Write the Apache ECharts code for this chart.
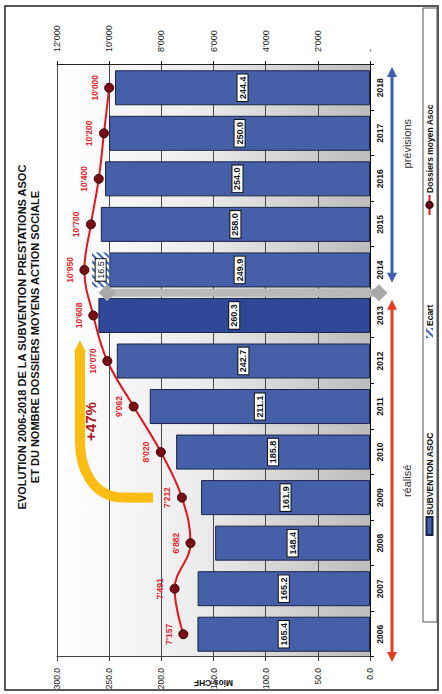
<!DOCTYPE html>
<html>
<head>
<meta charset="utf-8">
<script src="https://cdn.jsdelivr.net/npm/echarts@6/dist/echarts.min.js"></script>
<style>
  html, body { margin: 0; padding: 0; background: #fff; overflow: hidden; }
  #page { position: absolute; left: 0; top: 0; width: 442px; height: 694px; overflow: hidden; background: #fff; }
  /* landscape chart turned a quarter turn to fit the portrait page */
  #chart { position: absolute; left: 0; top: 0; width: 694px; height: 442px;
           transform-origin: 0 0; transform: translateY(694px) rotate(-90deg); }
</style>
</head>
<body>
<div id="page"><div id="chart"></div></div>
<script>
// ---- data ----
const years = ['2006', '2007', '2008', '2009', '2010', '2011', '2012', '2013', '2014', '2015', '2016', '2017', '2018'];
const subvention = [165.4, 165.2, 148.4, 161.9, 185.8, 211.1, 242.7, 260.3, 249.9, 258.0, 254.0, 250.0, 244.4];
const ecart = [null, null, null, null, null, null, null, null, 16.5, null, null, null, null];
const dossiers = [7157, 7491, 6882, 7212, 8020, 9062, 10070, 10608, 10950, 10700, 10400, 10200, 10000];
const lastActualYear = '2013';
const growthText = '+47%';

// ---- styling ----
const FONT = '"Liberation Sans", Arial, Helvetica, sans-serif';
const BAR_BLUE = '#4560a8';
const BAR_DARK = '#2f4897';
const LINE_RED = '#e4161d';
const GOLD = '#fbbd12';

function withQuote(v) {
  return String(v).replace(/\B(?=(\d{3})+(?!\d))/g, "'");
}

const labelBox = {
  show: true,
  position: 'inside',
  color: '#111',
  fontFamily: FONT,
  fontSize: 9,
  fontWeight: 'bold',
  backgroundColor: '#fff',
  borderColor: '#111',
  borderWidth: 1,
  padding: [1, 2, 0, 2],
  formatter: p => Number(p.value).toFixed(1)
};

const chart = echarts.init(document.getElementById('chart'), null, { renderer: 'svg', width: 694, height: 442 });

const option = {
  animation: false,
  backgroundColor: '#fff',
  textStyle: { fontFamily: FONT },
  grid: {
    left: 37, right: 65, top: 57, bottom: 72,
    show: true, borderWidth: 0,
    outerBoundsMode: 'none', containLabel: false,
    backgroundColor: {
      type: 'linear', x: 0, y: 0, x2: 0, y2: 1,
      colorStops: [
        { offset: 0, color: '#ffffff' },
        { offset: 0.45, color: '#ececec' },
        { offset: 1, color: '#bcbcbc' }
      ]
    }
  },
  legend: [
    { data: ['SUBVENTION ASOC'], left: 158, top: 425, padding: 0, icon: 'rect',
      itemWidth: 18, itemHeight: 6, selectedMode: false,
      textStyle: { fontFamily: FONT, fontSize: 8.5, fontWeight: 'bold', color: '#111', padding: [0, 0, 0, -3] } },
    { data: ['Ecart'], left: 356, top: 425, padding: 0, icon: 'rect',
      itemWidth: 10, itemHeight: 7, selectedMode: false,
      textStyle: { fontFamily: FONT, fontSize: 8.5, fontWeight: 'bold', color: '#111', padding: [0, 0, 0, -3] } },
    { data: ['Dossiers moyen Asoc'], left: 478, top: 425, padding: 0,
      itemWidth: 20, itemHeight: 8, selectedMode: false,
      textStyle: { fontFamily: FONT, fontSize: 8.5, fontWeight: 'bold', color: '#111', padding: [0, 0, 0, -3] } }
  ],
  xAxis: {
    type: 'category',
    data: years,
    boundaryGap: true,
    axisLine: { lineStyle: { color: '#111', width: 1 } },
    axisTick: { show: true, length: 4, lineStyle: { color: '#111' } },
    axisLabel: { margin: 5, fontFamily: FONT, fontSize: 8.5, fontWeight: 'bold', color: '#111' }
  },
  yAxis: [
    {
      type: 'value', min: 0, max: 300, interval: 50, position: 'left',
      name: 'Mios CHF', nameLocation: 'middle', nameGap: 21, nameMoveOverlap: false,
      nameTextStyle: { fontFamily: FONT, fontSize: 8.5, fontWeight: 'bold', color: '#111' },
      axisLine: { show: true, lineStyle: { color: '#444', width: 1 } },
      axisTick: { show: true, length: 4, lineStyle: { color: '#444' } },
      axisLabel: { margin: 11, fontFamily: FONT, fontSize: 8.5, color: '#222', formatter: v => v.toFixed(1) },
      splitLine: { show: true, lineStyle: { color: '#4a4a4a', width: 1 } }
    },
    {
      type: 'value', min: 0, max: 12000, interval: 2000, position: 'right',
      axisLine: { show: true, lineStyle: { color: '#222', width: 1 } },
      axisTick: { show: true, length: 4, lineStyle: { color: '#222' } },
      axisLabel: { margin: 13, fontFamily: FONT, fontSize: 9, color: '#222',
                   formatter: v => (v === 0 ? '-' : withQuote(v)) },
      splitLine: { show: false }
    }
  ],
  series: [
    {
      name: 'SUBVENTION ASOC',
      type: 'bar',
      stack: 'total',
      barWidth: 35,
      z: 2,
      data: subvention.map((v, i) => years[i] === lastActualYear
        ? { value: v, itemStyle: { color: BAR_DARK } }
        : v),
      itemStyle: { color: BAR_BLUE, borderColor: '#1b2447', borderWidth: 1 },
      label: labelBox
    },
    {
      name: 'Ecart',
      type: 'bar',
      stack: 'total',
      barWidth: 35,
      z: 2,
      data: ecart,
      itemStyle: {
        color: '#ffffff',
        decal: {
          symbol: 'rect', symbolSize: 1,
          dashArrayX: [1, 0], dashArrayY: [2, 3],
          rotation: -Math.PI / 4,
          color: '#3d65b8'
        }
      },
      label: Object.assign({}, labelBox, { fontWeight: 'normal' })
    },
    {
      name: 'Dossiers moyen Asoc',
      type: 'line',
      yAxisIndex: 1,
      z: 6,
      data: dossiers,
      smooth: 0.4,
      symbol: 'circle',
      symbolSize: 9,
      lineStyle: { color: LINE_RED, width: 2 },
      itemStyle: { color: '#7a0c13', borderColor: '#3b0508', borderWidth: 1 },
      label: {
        show: true, position: 'top', distance: 5,
        color: '#e8232a', fontFamily: FONT, fontSize: 8.5, fontWeight: 'bold',
        formatter: p => withQuote(p.value)
      }
    }
  ]
};

chart.setOption(option);

// ---- annotations placed from the axes ----
const xAt = name => chart.convertToPixel({ xAxisIndex: 0 }, name);
const yAt = v => chart.convertToPixel({ yAxisIndex: 0 }, v);

const iLast = years.indexOf(lastActualYear);
const split = (xAt(years[iLast]) + xAt(years[iLast + 1])) / 2;
const band = xAt(years[1]) - xAt(years[0]);
const plotLeft = xAt(years[0]) - band / 2;
const plotRight = xAt(years[years.length - 1]) + band / 2;
const base = yAt(0);

function diamond(cx, cy, r) {
  return [[cx, cy - r], [cx + r, cy], [cx, cy + r], [cx - r, cy]];
}

function doubleArrow(x1, x2, y, color) {
  const h = 10, w = 5;
  return [
    { type: 'line', z: 8, shape: { x1: x1 + h - 1, y1: y, x2: x2 - h + 1, y2: y },
      style: { stroke: color, lineWidth: 3 } },
    { type: 'polygon', z: 8, shape: { points: [[x1, y], [x1 + h, y - w], [x1 + h, y + w]] },
      style: { fill: color } },
    { type: 'polygon', z: 8, shape: { points: [[x2, y], [x2 - h, y - w], [x2 - h, y + w]] },
      style: { fill: color } }
  ];
}

// curved growth arrow rising from 2009 to the last actual year
const gx0 = xAt('2009');
const gyStart = yAt(208);
const gyTop = yAt(278);
const gTip = (xAt('2012') + xAt(lastActualYear)) / 2 - 2;
const gHead = 12;
const gBendY = gyTop + 44;
const gBendX = gx0 + 56;

const arrowY = base + 22;

const graphics = [
  // outer frame
  { type: 'rect', z: 0, shape: { x: 4, y: 5, width: 684, height: 433 },
    style: { fill: null, stroke: '#222', lineWidth: 1.5 } },
  // legend frame
  { type: 'rect', z: 1, shape: { x: 72, y: 423, width: 614, height: 14 },
    style: { fill: '#fff', stroke: '#555', lineWidth: 1 } },
  // title
  { type: 'text', z: 10, style: { x: 357, y: 22, text: 'EVOLUTION 2006-2018 DE LA SUBVENTION PRESTATIONS ASOC',
      fill: '#111', font: 'bold 11px ' + FONT, textAlign: 'center', textVerticalAlign: 'middle' } },
  { type: 'text', z: 10, style: { x: 357, y: 35, text: 'ET DU NOMBRE DOSSIERS MOYENS ACTION SOCIALE',
      fill: '#111', font: 'bold 11px ' + FONT, textAlign: 'center', textVerticalAlign: 'middle' } },
  // separator between actual and planned years
  { type: 'line', z: 4, shape: { x1: split, y1: yAt(252), x2: split, y2: base + 9 },
    style: { stroke: '#b9b9b9', lineWidth: 8 } },
  { type: 'polygon', z: 4, shape: { points: diamond(split, yAt(252), 8.5) }, style: { fill: '#a9a9a9' } },
  { type: 'polygon', z: 4, shape: { points: diamond(split, base + 9, 8.5) }, style: { fill: '#a9a9a9' } },
  // growth arrow
  { type: 'line', z: 5, shape: { x1: gx0, y1: gyStart, x2: gx0, y2: gBendY },
    style: { stroke: GOLD, lineWidth: 10 } },
  { type: 'bezierCurve', z: 5,
    shape: { x1: gx0, y1: gBendY, cpx1: gx0, cpy1: gyTop + 12, cpx2: gBendX - 26, cpy2: gyTop, x2: gBendX, y2: gyTop },
    style: { fill: null, stroke: GOLD, lineWidth: 10 } },
  { type: 'line', z: 5, shape: { x1: gBendX - 1, y1: gyTop, x2: gTip - gHead + 1, y2: gyTop },
    style: { stroke: GOLD, lineWidth: 10 } },
  { type: 'polygon', z: 5, shape: { points: [[gTip, gyTop], [gTip - gHead, gyTop - 6], [gTip - gHead, gyTop + 6]] },
    style: { fill: GOLD } },
  { type: 'text', z: 10, style: { x: xAt('2011') - 15, y: yAt(268), text: growthText,
      fill: '#b3121b', font: 'bold 15px ' + FONT, textAlign: 'center', textVerticalAlign: 'middle' } },
  // period arrows
  ...doubleArrow(plotLeft - 5, split - 7, arrowY, '#e63c22'),
  ...doubleArrow(split + 10, plotRight - 2, arrowY, '#3f5fae'),
  { type: 'text', z: 10, style: { x: (plotLeft - 5 + split - 7) / 2, y: arrowY + 15, text: 'réalisé',
      fill: '#333', font: '11px ' + FONT, textAlign: 'center', textVerticalAlign: 'middle' } },
  { type: 'text', z: 10, style: { x: split + 149, y: arrowY + 15, text: 'prévisions',
      fill: '#333', font: '11px ' + FONT, textAlign: 'center', textVerticalAlign: 'middle' } }
];

chart.setOption({ graphic: graphics });
</script>
</body>
</html>
